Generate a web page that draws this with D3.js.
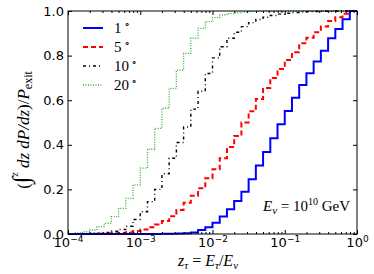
<!DOCTYPE html>
<html><head><meta charset="utf-8">
<script src="https://cdn.jsdelivr.net/npm/d3@7"></script>
<style>body{margin:0;background:#fff}svg{display:block}</style>
</head><body>
<svg id="c" width="374" height="274"></svg>
<script>
// bin edges: log10 z from -4 to 0 in steps of 0.1 (40 bins)
const logEdges = d3.range(41).map(k => -4 + 0.1 * k);
const xTickValues = [1e-4, 1e-3, 1e-2, 1e-1, 1];
const xTickExps = ["−4", "−3", "−2", "−1", "0"];
const yTickValues = [0, 0.2, 0.4, 0.6, 0.8, 1.0];
const seriesNames = ["1", "5", "10", "20"];
// cumulative fraction per bin
const blue1 = [0,0,0,0,0,0,0,0,0,0,0,0,0.0005,0.001,0.001,0.002,0.003,0.007,0.018,0.03,
  0.051,0.078,0.111,0.148,0.19,0.245,0.307,0.368,0.429,0.492,
  0.552,0.611,0.668,0.721,0.773,0.822,0.878,0.919,0.963,1.0];
const red5 = [0,0,0,0.001,0.001,0.002,0.003,0.005,0.008,0.013,
  0.02,0.03,0.043,0.058,0.08,0.108,0.14,0.172,0.205,0.25,
  0.29,0.34,0.39,0.44,0.5,0.55,0.605,0.655,0.70,0.74,
  0.78,0.815,0.855,0.88,0.905,0.93,0.955,0.972,0.988,1.0];
const black10 = [0,0.001,0.001,0.002,0.004,0.007,0.012,0.02,0.035,0.065,
  0.1,0.145,0.2,0.27,0.34,0.41,0.48,0.56,0.64,0.72,
  0.79,0.84,0.878,0.905,0.93,0.948,0.962,0.972,0.98,0.986,
  0.99,0.993,0.995,0.997,0.998,0.999,0.999,1,1,1];
const green20 = [0.002,0.005,0.01,0.018,0.033,0.048,0.078,0.115,0.16,0.22,
  0.295,0.38,0.474,0.564,0.653,0.735,0.81,0.878,0.922,0.952,
  0.97,0.982,0.988,0.992,0.995,0.997,0.998,0.999,0.999,1,
  1,1,1,1,1,1,1,1,1,1];

const L = 68, R = 357, T = 11, B = 234;
const svg = d3.select("#c");
const x = d3.scaleLog().domain([1e-4, 1]).range([L, R]);
const y = d3.scaleLinear().domain([0, 1]).range([B, T]);

const styles = [
  {data: blue1, color: "#0000ff", w: 2, dash: null},
  {data: red5, color: "#ff0000", w: 2, dash: "5,3"},
  {data: black10, color: "#000000", w: 1.4, dash: "3,3,1,3"},
  {data: green20, color: "#33b033", w: 1.3, dash: "1,1.5"}
];
const line = d3.line().curve(d3.curveStepAfter).x(d => x(d[0])).y(d => y(d[1]));
const plot = svg.append("g");
styles.slice().reverse().forEach(s => {
  const pts = s.data.map((v, k) => [Math.pow(10, logEdges[k]), v]);
  pts.push([Math.pow(10, logEdges[40]), s.data[39]]);
  plot.append("path").attr("d", line(pts)).attr("fill", "none")
    .attr("stroke", s.color).attr("stroke-width", s.w)
    .attr("stroke-dasharray", s.dash);
});

// frame
svg.append("rect").attr("x", L).attr("y", T).attr("width", R - L).attr("height", B - T)
  .attr("fill", "none").attr("stroke", "#000").attr("stroke-width", 1);

const minor = [];
for (let e = -4; e < 0; e++) for (let m = 2; m <= 9; m++) minor.push(m * Math.pow(10, e));

function styleAxis(g) { g.select(".domain").remove(); g.selectAll("line").attr("stroke", "#000"); }

// bottom
const gb = svg.append("g").attr("transform", `translate(0,${B})`)
  .call(d3.axisBottom(x).tickValues(xTickValues).tickSizeInner(-4).tickSizeOuter(0).tickPadding(4).tickFormat(() => "10"));
styleAxis(gb);
gb.selectAll("text").attr("font-family", "DejaVu Sans").attr("font-size", 13).attr("fill", "#000")
  .attr("dy", "0.71em").attr("text-anchor", "middle")
  .each(function(d, i) {
    d3.select(this).append("tspan").attr("font-size", 9).attr("dy", "-5").text(xTickExps[i]);
  });
svg.append("g").attr("transform", `translate(0,${B})`)
  .call(d3.axisBottom(x).tickValues(minor).tickSizeInner(-2).tickSizeOuter(0).tickFormat(""))
  .call(styleAxis);
// top
svg.append("g").attr("transform", `translate(0,${T})`)
  .call(d3.axisTop(x).tickValues(xTickValues).tickSizeInner(-4).tickSizeOuter(0).tickFormat(""))
  .call(styleAxis);
svg.append("g").attr("transform", `translate(0,${T})`)
  .call(d3.axisTop(x).tickValues(minor).tickSizeInner(-2).tickSizeOuter(0).tickFormat(""))
  .call(styleAxis);
// left
const gl = svg.append("g").attr("transform", `translate(${L},0)`)
  .call(d3.axisLeft(y).tickValues(yTickValues).tickSizeInner(-4).tickSizeOuter(0).tickPadding(4).tickFormat(d3.format(".1f")));
styleAxis(gl);
gl.selectAll("text").attr("font-family", "DejaVu Sans").attr("font-size", 13).attr("fill", "#000");
// right
svg.append("g").attr("transform", `translate(${R},0)`)
  .call(d3.axisRight(y).tickValues(yTickValues).tickSizeInner(-4).tickSizeOuter(0).tickFormat(""))
  .call(styleAxis);

const serif = "Liberation Serif";
// x label
const xl = svg.append("text").attr("x", 208).attr("y", 266).attr("text-anchor", "middle")
  .attr("font-family", serif).attr("font-size", 16);
xl.append("tspan").attr("font-style", "italic").text("z");
xl.append("tspan").attr("font-style", "italic").attr("font-size", 11).attr("dy", 3).text("τ");
xl.append("tspan").attr("dy", -3).text(" = ");
xl.append("tspan").attr("font-style", "italic").text("E");
xl.append("tspan").attr("font-style", "italic").attr("font-size", 11).attr("dy", 3).text("τ");
xl.append("tspan").attr("dy", -3).text("/");
xl.append("tspan").attr("font-style", "italic").text("E");
xl.append("tspan").attr("font-style", "italic").attr("font-size", 11).attr("dy", 3).text("ν");

// y label
const yl = svg.append("text").attr("transform", "translate(29,130) rotate(-90)")
  .attr("text-anchor", "middle").attr("font-family", serif).attr("font-size", 17);
yl.append("tspan").text("(");
yl.append("tspan").attr("font-size", 24).text("∫");
yl.append("tspan").attr("font-style", "italic").attr("font-size", 11).attr("dy", -11).text("z");
yl.append("tspan").attr("font-style", "italic").attr("dy", 11).text(" dz dP/dz");
yl.append("tspan").text(")/");
yl.append("tspan").attr("font-style", "italic").text("P");
yl.append("tspan").attr("font-size", 12).attr("dy", 3).text("exit");

// legend
const legY = [28, 47, 66, 85];
styles.forEach((s, i) => {
  svg.append("line").attr("x1", 83).attr("x2", 103).attr("y1", legY[i]).attr("y2", legY[i])
    .attr("stroke", s.color).attr("stroke-width", s.w).attr("stroke-dasharray", s.dash);
  const t = svg.append("text").attr("x", 114).attr("y", legY[i] + 5)
    .attr("font-family", serif).attr("font-size", 15).text(seriesNames[i]);
  t.append("tspan").attr("font-size", 10).attr("dx", 2).attr("dy", -6).text("∘");
});

// annotation
const an = svg.append("text").attr("x", 263).attr("y", 211).attr("font-family", serif).attr("font-size", 15);
an.append("tspan").attr("font-style", "italic").text("E");
an.append("tspan").attr("font-style", "italic").attr("font-size", 11).attr("dy", 3).text("ν");
an.append("tspan").attr("dy", -3).text(" = 10");
an.append("tspan").attr("font-size", 10).attr("dy", -6).text("10");
an.append("tspan").attr("dy", 6).text(" GeV");
</script>
</body></html>
